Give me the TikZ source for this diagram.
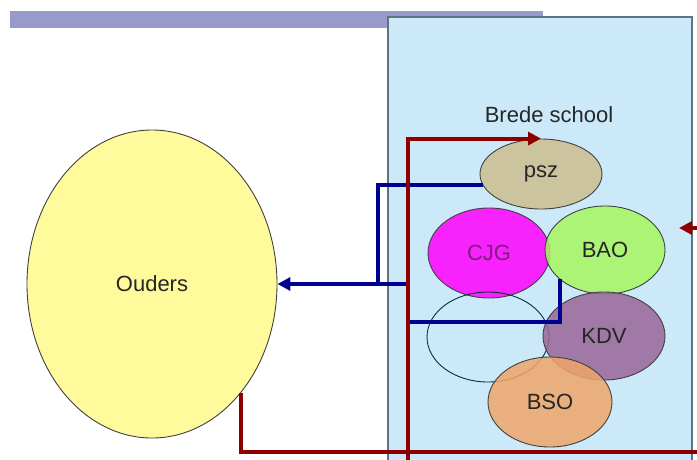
\documentclass[tikz,border=0pt]{standalone}
\usepackage{fontspec}
\setmainfont{Liberation Sans}
\usepackage{tikz}
\usetikzlibrary{shapes.geometric}
\usetikzlibrary{arrows.meta}

\definecolor{barpurple}{HTML}{9999CC}
\definecolor{schoolblue}{HTML}{CCE9FA}
\definecolor{schoolgray}{HTML}{5F7380}
\definecolor{ouderyellow}{HTML}{FFFA9C}
\definecolor{psztan}{HTML}{CCBE8E}
\definecolor{cjgpink}{HTML}{FF00FF}
\definecolor{cjgtext}{HTML}{7A1F7A}
\definecolor{baogreen}{HTML}{A6F760}
\definecolor{kdvpurple}{HTML}{9A6698}
\definecolor{bsoorange}{HTML}{EFA66A}
\definecolor{linkblue}{HTML}{000090}
\definecolor{linkred}{HTML}{8E0000}

\begin{document}
\begin{tikzpicture}[x=1pt, y=-1pt,
    every node/.style={ellipse, draw=black!75, line width=0.9pt, inner sep=0pt, text=black!85, font=\fontsize{22}{26}\selectfont},
    part/.style={minimum width=122pt, minimum height=88pt, fill opacity=0.85, text opacity=1},
    plain label/.style={rectangle, draw=none},
    blueline/.style={draw=linkblue, line width=4pt, -{Triangle[length=13pt, width=13pt]}},
    redline/.style={draw=linkred, line width=4pt},
  ]

  \clip (0,0) rectangle (697,459);
  \fill[barpurple] (10,11) rectangle (543,28);
  \filldraw[fill=schoolblue, draw=schoolgray, line width=1.5pt] (388,17) rectangle (692,470);

  \node[plain label] (brede) at (549,115) {Brede school};

  \node[fill=ouderyellow, minimum width=250pt, minimum height=308pt] (ouders) at (152,284) {Ouders};

  \node[part, fill=psztan, minimum height=70pt] (psz) at (541,174) {psz};
  \node[part, fill=cjgpink, minimum height=90pt, text=cjgtext] (cjg) at (489,253) {CJG};
  \node[part, fill=baogreen, minimum width=120pt] (bao) at (605,250) {BAO};
  \node[part, draw=black!60!teal, minimum height=90pt] (open) at (488,337) {};
  \node[part, fill=kdvpurple] (kdv) at (604,336) {KDV};
  \node[part, fill=bsoorange, minimum width=124pt, minimum height=90pt] (bso) at (550,402) {BSO};

  \coordinate (bend) at (408,322);
  \coordinate (merge) at (378,284);
  \coordinate (feed) at (408,470);
  \coordinate (rim) at (712,452);
  \coordinate (back) at (712,228);
  \coordinate (backtip) at (679,228);

  \draw[blueline] (bao.213) |- (bend) |- (ouders.east);
  \draw[blueline, -] (psz.191) -| (merge);

  \draw[redline, -{Triangle[length=13pt, width=13pt]}] (feed) |- (psz.north);
  \draw[redline, -{Triangle[length=13pt, width=13pt]}] (ouders.-51) |- (rim) -- (back) -- (backtip);

\end{tikzpicture}
\end{document}
